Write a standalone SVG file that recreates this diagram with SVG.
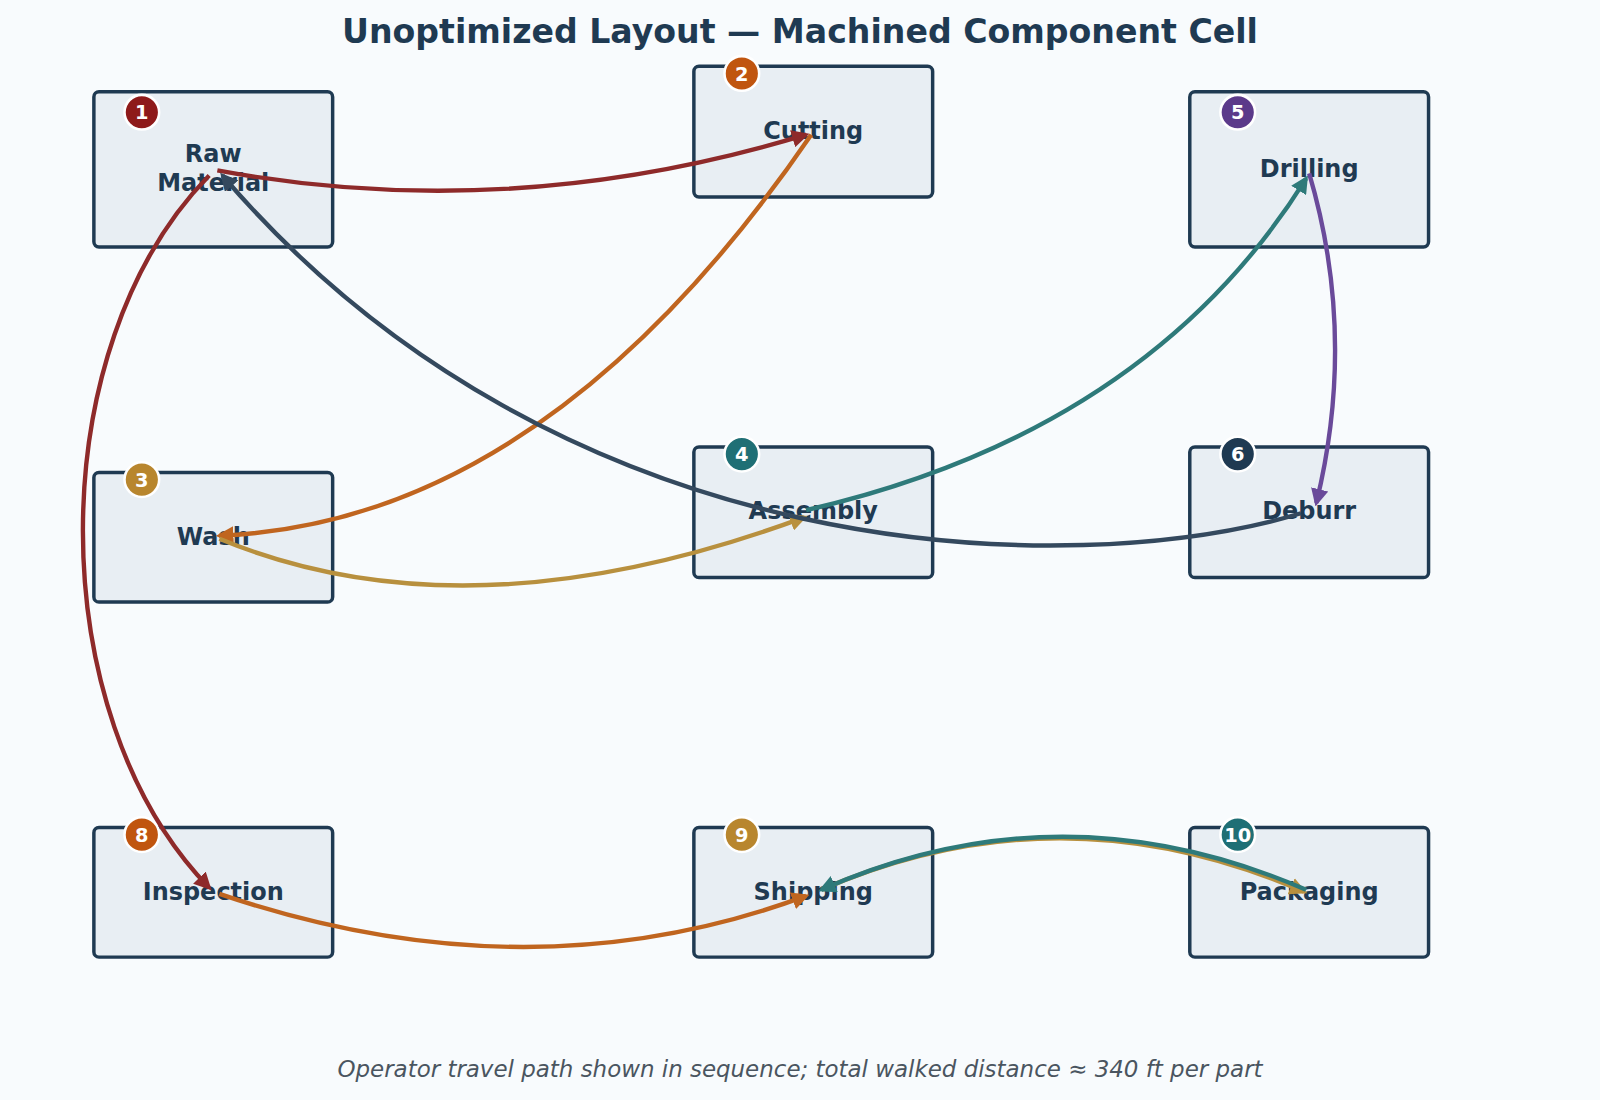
<svg xmlns="http://www.w3.org/2000/svg" width="1600" height="1100" viewBox="0 0 1600 1100">
<style>
.box{fill:#e8eef3;stroke:#1f3a52;stroke-width:3.4}
.lbl{font-family:"DejaVu Sans",sans-serif;font-weight:bold;font-size:23.5px;fill:#1f3a52;text-anchor:middle}
.bn{font-family:"DejaVu Sans",sans-serif;font-weight:bold;font-size:19px;fill:#fff;text-anchor:middle}
.bc{stroke:#fff;stroke-width:2.5}
.e{fill:none;stroke-width:4.3}
</style>
<defs>
<marker id="a" viewBox="0 0 10 10" refX="8" refY="5" markerWidth="4" markerHeight="4" orient="auto" markerUnits="strokeWidth"><path d="M0,0 L10,5 L0,10 z" fill="context-stroke"/></marker>
</defs>
<rect width="1600" height="1100" fill="#f8fbfd"/>
<g transform="scale(1.0204)">
<text x="784" y="42" font-family="DejaVu Sans,sans-serif" font-weight="bold" font-size="32.5" fill="#1f3a52" text-anchor="middle">Unoptimized Layout — Machined Component Cell</text>
<g id="n1"><rect class="box" x="92" y="90" width="234" height="152" rx="5"/><text class="lbl" x="209" y="159">Raw</text><text class="lbl" x="209" y="187">Material</text><circle class="bc" cx="139" cy="110" r="17" fill="#8e1a1a"/><text class="bn" x="139" y="117">1</text></g>
<g id="n2"><rect class="box" x="680" y="65" width="234" height="128" rx="5"/><text class="lbl" x="797" y="136">Cutting</text><circle class="bc" cx="727" cy="72" r="17" fill="#c0550f"/><text class="bn" x="727" y="79">2</text></g>
<g id="n5"><rect class="box" x="1166" y="90" width="234" height="152" rx="5"/><text class="lbl" x="1283" y="173">Drilling</text><circle class="bc" cx="1213" cy="110" r="17" fill="#5b3a8a"/><text class="bn" x="1213" y="117">5</text></g>
<g id="n3"><rect class="box" x="92" y="463" width="234" height="127" rx="5"/><text class="lbl" x="209" y="534">Wash</text><circle class="bc" cx="139" cy="470" r="17" fill="#b8862e"/><text class="bn" x="139" y="477">3</text></g>
<g id="n4"><rect class="box" x="680" y="438" width="234" height="128" rx="5"/><text class="lbl" x="797" y="509">Assembly</text><circle class="bc" cx="727" cy="445" r="17" fill="#1f6f75"/><text class="bn" x="727" y="452">4</text></g>
<g id="n6"><rect class="box" x="1166" y="438" width="234" height="128" rx="5"/><text class="lbl" x="1283" y="509">Deburr</text><circle class="bc" cx="1213" cy="445" r="17" fill="#1f3a52"/><text class="bn" x="1213" y="452">6</text></g>
<g id="n8"><rect class="box" x="92" y="811" width="234" height="127" rx="5"/><text class="lbl" x="209" y="882">Inspection</text><circle class="bc" cx="139" cy="818" r="17" fill="#c0550f"/><text class="bn" x="139" y="825">8</text></g>
<g id="n9"><rect class="box" x="680" y="811" width="234" height="127" rx="5"/><text class="lbl" x="797" y="882">Shipping</text><circle class="bc" cx="727" cy="818" r="17" fill="#b8862e"/><text class="bn" x="727" y="825">9</text></g>
<g id="n10"><rect class="box" x="1166" y="811" width="234" height="127" rx="5"/><text class="lbl" x="1283" y="882">Packaging</text><circle class="bc" cx="1213" cy="818" r="17" fill="#1f6f75"/><text class="bn" x="1213" y="825">10</text></g>
<g id="edges">
<path class="e" stroke="#8e2a2a" marker-end="url(#a)" d="M213,167 Q500,220 790,132"/>
<path class="e" stroke="#c0651f" marker-end="url(#a)" d="M795,132 Q535,512 215,525"/>
<path class="e" stroke="#b8903e" marker-end="url(#a)" d="M215,528 Q459,629 788,507"/>
<path class="e" stroke="#2e7a7a" marker-end="url(#a)" d="M790,500 Q1125,423 1280,175"/>
<path class="e" stroke="#6a4a9a" marker-end="url(#a)" d="M1283,170 Q1330,329 1290,493"/>
<path class="e" stroke="#34495e" marker-end="url(#a)" d="M1275,503 C1050,570 550,560 218,172"/>
<path class="e" stroke="#8e2a2a" marker-end="url(#a)" d="M205,172 C40,340 40,700 205,870"/>
<path class="e" stroke="#c0651f" marker-end="url(#a)" d="M215,876 Q518,979 790,878"/>
<path class="e" stroke="#b8903e" marker-end="url(#a)" d="M805,872 Q1040,770 1278,874"/>
<path class="e" stroke="#2e7a7a" marker-end="url(#a)" d="M1280,872 Q1040,768 805,872"/>
</g>
<text x="784" y="1055" font-family="DejaVu Sans,sans-serif" font-style="italic" font-size="22.5" fill="#4a5560" text-anchor="middle">Operator travel path shown in sequence; total walked distance ≈ 340 ft per part</text>
</g>
</svg>
